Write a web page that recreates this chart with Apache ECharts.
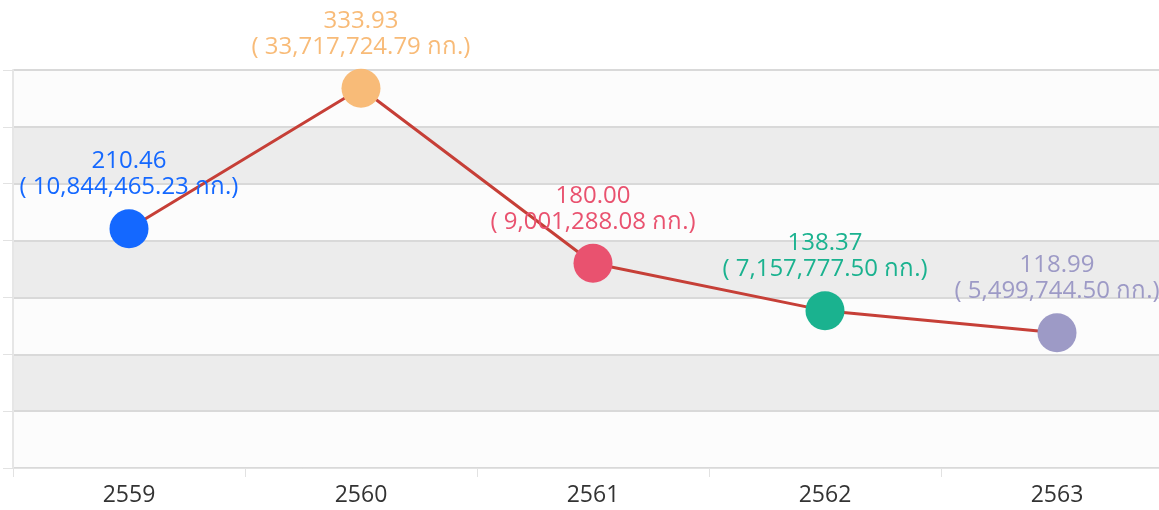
<!DOCTYPE html>
<html>
<head>
<meta charset="utf-8">
<script src="https://cdn.jsdelivr.net/npm/echarts@6/dist/echarts.min.js"></script>
<style>
html,body{margin:0;padding:0;background:#fff;overflow:hidden;width:1159px;height:510px;}
#chart{width:1173px;height:510px;}
</style>
</head>
<body>
<div id="chart"></div>
<script>
const categories = ['2559', '2560', '2561', '2562', '2563'];
const values = [210.46, 333.93, 180.00, 138.37, 118.99];
const weights = ['10,844,465.23', '33,717,724.79', '9,001,288.08', '7,157,777.50', '5,499,744.50'];
const pointColors = ['#1468ff', '#f8bb78', '#e9526f', '#1ab28f', '#9d9ac6'];
const yMin = 0, yMax = 350, yInterval = 50;

const chart = echarts.init(document.getElementById('chart'), null, {renderer: 'canvas'});
const fontFamily = '"Open Sans", "Noto Sans", "DejaVu Sans", sans-serif';

const seriesData = values.map((v, i) => ({
  value: v,
  itemStyle: {color: pointColors[i]},
  label: {color: pointColors[i]}
}));

chart.setOption({
  animation: false,
  backgroundColor: '#ffffff',
  grid: {left: 13, top: 70, right: 0, bottom: 42, containLabel: false},
  xAxis: {
    type: 'category',
    data: categories,
    boundaryGap: true,
    axisLine: {show: true, lineStyle: {color: '#e2e2e2', width: 1}},
    axisTick: {show: true, length: 9, lineStyle: {color: '#e2e2e2'}},
    axisLabel: {color: '#333333', fontSize: 23, fontFamily: fontFamily, margin: 16}
  },
  yAxis: {
    type: 'value',
    min: yMin, max: yMax, interval: yInterval,
    axisLine: {show: true, lineStyle: {color: '#e6e6e6', width: 2}},
    axisTick: {show: true, length: 10, lineStyle: {color: '#e2e2e2'}},
    axisLabel: {show: false},
    splitLine: {show: true, lineStyle: {color: '#d9d9d9', width: 2}},
    splitArea: {show: true, areaStyle: {color: ['#fcfcfc', '#ececec']}}
  },
  series: [{
    type: 'line',
    data: seriesData,
    symbol: 'circle',
    symbolSize: 39,
    lineStyle: {color: '#c63f37', width: 3},
    label: {
      show: true,
      position: 'top',
      distance: 9,
      fontSize: 24,
      lineHeight: 26,
      fontFamily: fontFamily,
      formatter: function (p) {
        return p.value.toFixed(2) + '\n( ' + weights[p.dataIndex] + ' กก.)';
      }
    }
  }]
});
</script>
</body>
</html>
